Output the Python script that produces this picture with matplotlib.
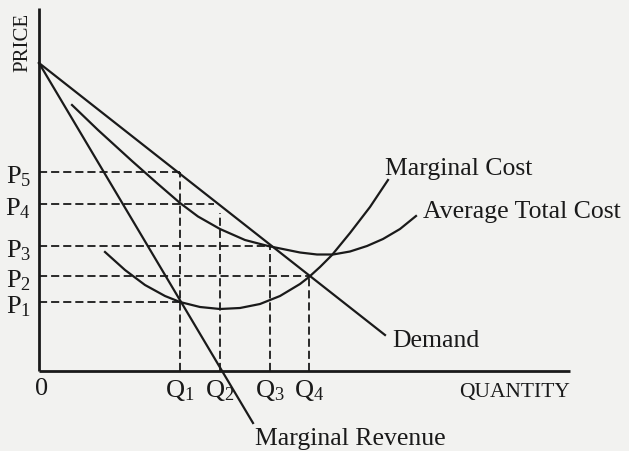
import matplotlib
matplotlib.use("Agg")
import matplotlib.pyplot as plt

plt.rcParams['font.family'] = ['Liberation Serif', 'DejaVu Serif']
plt.rcParams['mathtext.fontset'] = 'custom'
plt.rcParams['mathtext.rm'] = 'Liberation Serif'
plt.rcParams['mathtext.it'] = 'Liberation Serif:italic'

# quantities and prices marked on the axes
q_marks = [14.1, 18.1, 23.1, 27.0]
q_labels = [r'$\mathrm{Q}_1$', r'$\mathrm{Q}_2$', r'$\mathrm{Q}_3$', r'$\mathrm{Q}_4$']
p_marks = [6.9, 9.5, 12.5, 16.7, 19.9]
p_labels = [r'$\mathrm{P}_1$', r'$\mathrm{P}_2$', r'$\mathrm{P}_3$', r'$\mathrm{P}_4$', r'$\mathrm{P}_5$']

# straight lines: demand and marginal revenue
demand_q = [0.0, 34.6]
demand_p = [30.8, 3.6]
mr_q = [0.0, 21.4]
mr_p = [30.8, -5.2]

# cost curves
atc_q = [3.3, 5.9, 9.3, 11.9, 14.1, 15.9, 18.1, 20.6, 22.9, 26.1, 27.8, 29.4, 31.1, 32.8, 34.4, 36.1, 37.7]
atc_p = [26.6, 24.1, 21.0, 18.7, 16.8, 15.45, 14.2, 13.1, 12.5, 11.85, 11.65, 11.65, 11.95, 12.5, 13.2, 14.2, 15.5]
mc_q = [6.6, 8.6, 10.6, 12.6, 14.1, 16.1, 18.1, 20.1, 22.1, 24.1, 26.1, 27.0, 28.1, 29.3, 31.1, 33.1, 34.9]
mc_p = [11.9, 10.1, 8.6, 7.5, 6.9, 6.4, 6.2, 6.3, 6.7, 7.5, 8.7, 9.4, 10.4, 11.6, 13.8, 16.4, 19.1]

x_max = 53.1
y_max = 36.3

ink = '#1a1a1a'
fig = plt.figure(figsize=(6.29, 4.51), dpi=100)
fig.patch.set_facecolor('#f2f2f0')
ax = fig.add_axes([0, 0, 1, 1])
ax.set_facecolor('#f2f2f0')
ax.set_xlim(-3.9, 59.0)
ax.set_ylim(-8.0, 37.1)
ax.axis('off')

# axes
ax.plot([0, 0], [0, y_max], color=ink, lw=2.0, solid_capstyle='butt')
ax.plot([0, x_max], [0, 0], color=ink, lw=2.0, solid_capstyle='butt')

# dashed guides
dash = dict(color=ink, lw=1.3, dashes=(4.5, 2.2))
ax.plot([0, q_marks[0]], [p_marks[4], p_marks[4]], **dash)
ax.plot([q_marks[0], q_marks[0]], [0, p_marks[4]], **dash)
ax.plot([0, 17.5], [p_marks[3], p_marks[3]], **dash)
ax.plot([q_marks[1], q_marks[1]], [0, 15.8], **dash)
ax.plot([0, q_marks[2]], [p_marks[2], p_marks[2]], **dash)
ax.plot([q_marks[2], q_marks[2]], [0, p_marks[2]], **dash)
ax.plot([0, q_marks[3]], [p_marks[1], p_marks[1]], **dash)
ax.plot([q_marks[3], q_marks[3]], [0, p_marks[1]], **dash)
ax.plot([0, q_marks[0]], [p_marks[0], p_marks[0]], **dash)

# curves
ax.plot(demand_q, demand_p, color=ink, lw=1.6)
ax.plot(mr_q, mr_p, color=ink, lw=1.6)
ax.plot(atc_q, atc_p, color=ink, lw=1.6, solid_joinstyle='round')
ax.plot(mc_q, mc_p, color=ink, lw=1.6, solid_joinstyle='round')

# tick labels
for p, lab in zip(p_marks, p_labels):
    ax.text(-0.8, p - 1.1, lab, ha='right', va='baseline', fontsize=19, color=ink)
for q, lab in zip(q_marks, q_labels):
    ax.text(q, -2.6, lab, ha='center', va='baseline', fontsize=19, color=ink)
ax.text(0.3, -2.4, '0', ha='center', va='baseline', fontsize=19, color=ink)

ax.text(-1.6, 32.9, 'PRICE', rotation=90, ha='center', va='center', fontsize=15, color=ink)
ax.text(x_max, -2.6, 'QUANTITY', ha='right', va='baseline', fontsize=15.5, color=ink)

# curve names
ax.text(34.6, 19.6, 'Marginal Cost', ha='left', va='baseline', fontsize=18.5, color=ink)
ax.text(38.4, 15.3, 'Average Total Cost', ha='left', va='baseline', fontsize=18.5, color=ink)
ax.text(35.3, 2.4, 'Demand', ha='left', va='baseline', fontsize=18.5, color=ink)
ax.text(21.6, -7.4, 'Marginal Revenue', ha='left', va='baseline', fontsize=18.5, color=ink)

fig.savefig('out.png', dpi=100, facecolor=fig.get_facecolor())
